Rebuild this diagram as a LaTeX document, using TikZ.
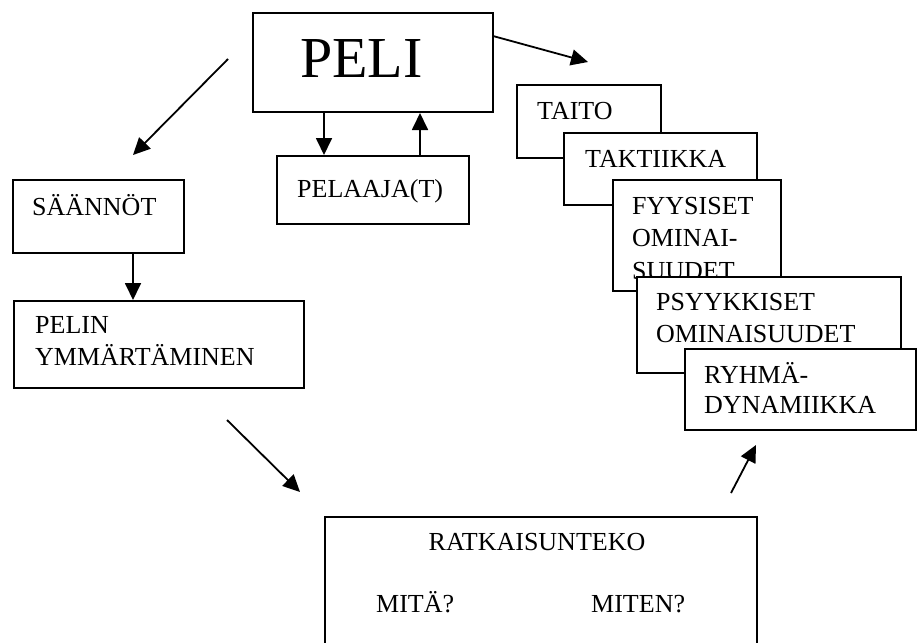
\documentclass[tikz,border=0pt]{standalone}
\usepackage{fontspec}
\setmainfont{Liberation Serif}
\usetikzlibrary{arrows.meta}
\begin{document}
\begin{tikzpicture}[x=1pt,y=-1pt,
  box/.style={draw,line width=2pt,fill=white,rectangle,inner sep=0pt,anchor=north west},
  lbl/.style={anchor=base west,inner sep=0pt,font=\fontsize{26}{31}\selectfont},
  clbl/.style={anchor=base,inner sep=0pt,font=\fontsize{26}{31}\selectfont},
  arr/.style={line width=1.8pt,-{Triangle[length=17pt,width=16pt]}}]
\useasboundingbox[fill=white] (0,0) rectangle (917,642);

% central game box and player box
\node[box,minimum width=240pt,minimum height=99pt] (peli) at (252,12) {};
\node[anchor=base west,inner sep=0pt,font=\fontsize{58}{60}\selectfont] (pelit) at (300,77) {PELI};
\node[box,minimum width=192pt,minimum height=68pt] (pelaaja) at (276,155) {};
\node[lbl] (pelaajat) at (297,197) {PELAAJA(T)};

% left column
\node[box,minimum width=171pt,minimum height=73pt] (saannot) at (12,179) {};
\node[lbl] (saannott) at (32,215) {SÄÄNNÖT};
\node[box,minimum width=290pt,minimum height=87pt] (ymm) at (13,300) {};
\node[lbl] (ymm1) at (35,333) {PELIN};
\node[lbl] (ymm2) at (35,365) {YMMÄRTÄMINEN};

% stacked boxes on the right
\node[box,minimum width=144pt,minimum height=73pt] (taito) at (516,84) {};
\node[lbl] (taitot) at (537,119) {TAITO};
\node[box,minimum width=193pt,minimum height=72pt] (taktiikka) at (563,132) {};
\node[lbl] (taktiikkat) at (585,167) {TAKTIIKKA};
\node[box,minimum width=168pt,minimum height=111pt] (fyys) at (612,179) {};
\node[lbl] (fyys1) at (632,214) {FYYSISET};
\node[lbl] (fyys2) at (632,246) {OMINAI-};
\node[lbl] (fyys3) at (632,279) {SUUDET};
\node[box,minimum width=264pt,minimum height=96pt] (psyyk) at (636,276) {};
\node[lbl] (psyyk1) at (656,310) {PSYYKKISET};
\node[lbl] (psyyk2) at (656,342) {OMINAISUUDET};
\node[box,minimum width=231pt,minimum height=81pt] (ryhma) at (684,348) {};
\node[lbl] (ryhma1) at (704,383) {RYHMÄ-};
\node[lbl] (ryhma2) at (704,413) {DYNAMIIKKA};

% decision-making box (runs past the lower edge)
\node[box,minimum width=432pt,minimum height=150pt] (ratk) at (324,516) {};
\node[clbl] (ratkt) at (537,550) {RATKAISUNTEKO};
\node[lbl] (mita) at (376,612) {MITÄ?};
\node[lbl] (miten) at (591,612) {MITEN?};

% free arrow ends
\coordinate (a1s) at (228,59);  \coordinate (a1e) at (133,155);
\coordinate (a2s) at (493,36);  \coordinate (a2e) at (588,62);
\coordinate (a3s) at (227,420); \coordinate (a3e) at (300,492);
\coordinate (a4s) at (731,493); \coordinate (a4e) at (756,445);

\draw[arr] (a1s) -- (a1e);
\draw[arr] (a2s) -- (a2e);
\draw[arr] (a3s) -- (a3e);
\draw[arr] (a4s) -- (a4e);
\draw[arr] (peli.south -| 324,0) -- (pelaaja.north -| 324,0);
\draw[arr] (pelaaja.north -| 420,0) -- (peli.south -| 420,0);
\draw[arr] (saannot.south -| 133,0) -- (ymm.north -| 133,0);
\end{tikzpicture}
\end{document}
